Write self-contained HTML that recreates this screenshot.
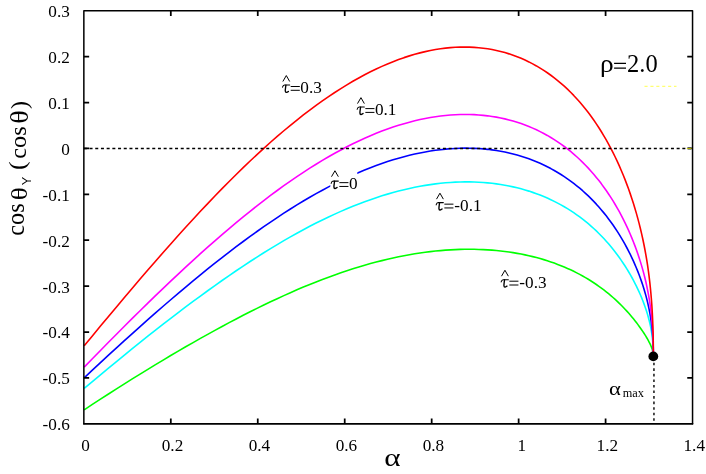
<!DOCTYPE html>
<html><head><meta charset="utf-8"><title>chart</title>
<style>
html,body{margin:0;padding:0;background:#fff;}
body{width:706px;height:474px;overflow:hidden;}
svg{display:block;will-change:transform;}
text{font-family:"Liberation Serif",serif;fill:#000;}
</style></head><body>
<svg width="706" height="474" viewBox="0 0 706 474">
<rect x="0" y="0" width="706" height="474" fill="#fff"/>

<g fill="none" stroke-width="1.6" stroke-linejoin="round" stroke-linecap="butt">
<polyline stroke="#00ff00" points="84.20,409.84 92.36,404.45 100.46,399.16 108.50,393.96 116.49,388.86 124.41,383.84 132.28,378.92 140.08,374.08 147.83,369.32 155.52,364.65 163.15,360.07 170.72,355.56 178.23,351.15 185.68,346.81 193.08,342.57 200.41,338.41 207.69,334.33 214.91,330.35 222.06,326.46 229.16,322.65 236.20,318.94 243.19,315.32 250.11,311.80 256.97,308.37 263.78,305.04 270.52,301.80 277.21,298.67 283.84,295.63 290.41,292.69 296.92,289.85 303.37,287.11 309.76,284.47 316.09,281.94 322.37,279.50 328.58,277.16 334.74,274.93 340.84,272.79 346.88,270.76 352.86,268.82 358.78,266.98 364.64,265.24 370.44,263.60 376.19,262.05 381.87,260.60 387.50,259.24 393.07,257.98 398.58,256.81 404.03,255.73 409.42,254.73 414.75,253.83 420.02,253.01 425.24,252.28 430.39,251.63 435.49,251.06 440.53,250.58 445.50,250.17 450.42,249.84 455.28,249.59 460.09,249.42 464.83,249.31 469.51,249.28 474.14,249.32 478.70,249.43 483.21,249.61 487.66,249.86 492.05,250.17 496.38,250.54 500.65,250.98 504.86,251.48 509.02,252.04 513.11,252.66 517.15,253.34 521.12,254.07 525.04,254.87 528.90,255.72 532.70,256.62 536.44,257.57 540.12,258.58 543.75,259.64 547.31,260.75 550.82,261.91 554.26,263.12 557.65,264.38 560.98,265.68 564.25,267.03 567.46,268.42 570.61,269.85 573.71,271.33 576.74,272.85 579.72,274.41 582.63,276.00 585.49,277.63 588.29,279.30 591.03,281.00 593.71,282.74 596.33,284.50 598.89,286.29 601.40,288.11 603.84,289.95 606.23,291.82 608.56,293.70 610.82,295.60 613.03,297.52 615.18,299.45 617.27,301.39 619.31,303.34 621.28,305.29 623.20,307.24 625.05,309.20 626.85,311.14 628.59,313.08 630.27,315.01 631.89,316.92 633.45,318.82 634.95,320.70 636.39,322.55 637.78,324.38 639.10,326.18 640.37,327.94 641.58,329.67 642.73,331.36 643.82,333.02 644.85,334.63 645.82,336.20 646.73,337.73 647.59,339.21 648.38,340.64 649.12,342.03 649.80,343.38 650.42,344.68 650.97,345.95 651.48,347.17 651.92,348.37 652.30,349.53 652.62,350.68 652.89,351.81 653.10,352.93 653.24,354.07 653.33,355.21 653.36,356.39"/>
<polyline stroke="#00ffff" points="84.20,388.48 92.36,381.59 100.46,374.81 108.50,368.12 116.49,361.54 124.41,355.06 132.28,348.68 140.08,342.40 147.83,336.23 155.52,330.16 163.15,324.20 170.72,318.35 178.23,312.60 185.68,306.97 193.08,301.45 200.41,296.04 207.69,290.75 214.91,285.58 222.06,280.52 229.16,275.59 236.20,270.78 243.19,266.10 250.11,261.54 256.97,257.11 263.78,252.80 270.52,248.63 277.21,244.59 283.84,240.67 290.41,236.89 296.92,233.24 303.37,229.72 309.76,226.33 316.09,223.08 322.37,219.96 328.58,216.97 334.74,214.11 340.84,211.38 346.88,208.78 352.86,206.31 358.78,203.97 364.64,201.75 370.44,199.66 376.19,197.70 381.87,195.86 387.50,194.14 393.07,192.54 398.58,191.06 404.03,189.69 409.42,188.45 414.75,187.32 420.02,186.30 425.24,185.39 430.39,184.59 435.49,183.89 440.53,183.30 445.50,182.82 450.42,182.44 455.28,182.15 460.09,181.97 464.83,181.88 469.51,181.89 474.14,181.99 478.70,182.19 483.21,182.47 487.66,182.84 492.05,183.30 496.38,183.85 500.65,184.47 504.86,185.19 509.02,185.98 513.11,186.85 517.15,187.80 521.12,188.83 525.04,189.94 528.90,191.11 532.70,192.37 536.44,193.69 540.12,195.09 543.75,196.56 547.31,198.09 550.82,199.69 554.26,201.36 557.65,203.10 560.98,204.89 564.25,206.75 567.46,208.68 570.61,210.66 573.71,212.70 576.74,214.80 579.72,216.95 582.63,219.16 585.49,221.42 588.29,223.73 591.03,226.09 593.71,228.50 596.33,230.95 598.89,233.45 601.40,235.99 603.84,238.56 606.23,241.18 608.56,243.83 610.82,246.52 613.03,249.23 615.18,251.97 617.27,254.74 619.31,257.53 621.28,260.35 623.20,263.18 625.05,266.02 626.85,268.88 628.59,271.75 630.27,274.63 631.89,277.51 633.45,280.39 634.95,283.28 636.39,286.16 637.78,289.04 639.10,291.92 640.37,294.78 641.58,297.64 642.73,300.50 643.82,303.34 644.85,306.17 645.82,309.00 646.73,311.81 647.59,314.62 648.38,317.43 649.12,320.24 649.80,323.05 650.42,325.86 650.97,328.70 651.48,331.55 651.92,334.43 652.30,337.35 652.62,340.32 652.89,343.35 653.10,346.45 653.24,349.65 653.33,352.96 653.36,356.39"/>
<polyline stroke="#0000ff" points="84.20,377.81 92.36,370.17 100.46,362.63 108.50,355.20 116.49,347.88 124.41,340.67 132.28,333.56 140.08,326.57 147.83,319.69 155.52,312.92 163.15,306.27 170.72,299.74 178.23,293.33 185.68,287.05 193.08,280.89 200.41,274.86 207.69,268.96 214.91,263.19 222.06,257.56 229.16,252.06 236.20,246.70 243.19,241.49 250.11,236.41 256.97,231.48 263.78,226.69 270.52,222.04 277.21,217.55 283.84,213.19 290.41,208.99 296.92,204.93 303.37,201.03 309.76,197.27 316.09,193.65 322.37,190.19 328.58,186.87 334.74,183.70 340.84,180.67 346.88,177.79 352.86,175.05 358.78,172.46 364.64,170.01 370.44,167.69 376.19,165.52 381.87,163.48 387.50,161.58 393.07,159.82 398.58,158.18 404.03,156.68 409.42,155.31 414.75,154.06 420.02,152.94 425.24,151.94 430.39,151.06 435.49,150.31 440.53,149.67 445.50,149.14 450.42,148.73 455.28,148.44 460.09,148.25 464.83,148.17 469.51,148.20 474.14,148.33 478.70,148.56 483.21,148.90 487.66,149.33 492.05,149.87 496.38,150.50 500.65,151.22 504.86,152.04 509.02,152.95 513.11,153.95 517.15,155.03 521.12,156.21 525.04,157.47 528.90,158.81 532.70,160.24 536.44,161.75 540.12,163.34 543.75,165.01 547.31,166.76 550.82,168.58 554.26,170.48 557.65,172.46 560.98,174.50 564.25,176.62 567.46,178.80 570.61,181.06 573.71,183.38 576.74,185.77 579.72,188.22 582.63,190.73 585.49,193.31 588.29,195.94 591.03,198.63 593.71,201.38 596.33,204.17 598.89,207.02 601.40,209.92 603.84,212.87 606.23,215.86 608.56,218.90 610.82,221.97 613.03,225.08 615.18,228.23 617.27,231.42 619.31,234.63 621.28,237.87 623.20,241.14 625.05,244.44 626.85,247.75 628.59,251.08 630.27,254.43 631.89,257.80 633.45,261.18 634.95,264.57 636.39,267.97 637.78,271.37 639.10,274.79 640.37,278.21 641.58,281.63 642.73,285.06 643.82,288.50 644.85,291.94 645.82,295.39 646.73,298.86 647.59,302.33 648.38,305.82 649.12,309.34 649.80,312.88 650.42,316.46 650.97,320.07 651.48,323.74 651.92,327.46 652.30,331.26 652.62,335.14 652.89,339.12 653.10,343.21 653.24,347.44 653.33,351.83 653.36,356.39"/>
<polyline stroke="#ff00ff" points="84.20,367.13 92.36,358.74 100.46,350.46 108.50,342.29 116.49,334.22 124.41,326.28 132.28,318.44 140.08,310.73 147.83,303.14 155.52,295.68 163.15,288.34 170.72,281.13 178.23,274.06 185.68,267.13 193.08,260.33 200.41,253.67 207.69,247.17 214.91,240.80 222.06,234.59 229.16,228.53 236.20,222.62 243.19,216.87 250.11,211.28 256.97,205.85 263.78,200.57 270.52,195.46 277.21,190.51 283.84,185.72 290.41,181.09 296.92,176.63 303.37,172.33 309.76,168.20 316.09,164.23 322.37,160.42 328.58,156.77 334.74,153.29 340.84,149.96 346.88,146.80 352.86,143.80 358.78,140.95 364.64,138.26 370.44,135.72 376.19,133.34 381.87,131.11 387.50,129.03 393.07,127.09 398.58,125.31 404.03,123.66 409.42,122.16 414.75,120.80 420.02,119.58 425.24,118.49 430.39,117.54 435.49,116.72 440.53,116.03 445.50,115.47 450.42,115.03 455.28,114.72 460.09,114.53 464.83,114.45 469.51,114.50 474.14,114.66 478.70,114.94 483.21,115.33 487.66,115.83 492.05,116.44 496.38,117.15 500.65,117.97 504.86,118.89 509.02,119.92 513.11,121.04 517.15,122.27 521.12,123.59 525.04,125.00 528.90,126.51 532.70,128.12 536.44,129.81 540.12,131.60 543.75,133.47 547.31,135.43 550.82,137.47 554.26,139.60 557.65,141.82 560.98,144.11 564.25,146.48 567.46,148.93 570.61,151.46 573.71,154.06 576.74,156.74 579.72,159.49 582.63,162.31 585.49,165.20 588.29,168.15 591.03,171.17 593.71,174.25 596.33,177.40 598.89,180.60 601.40,183.86 603.84,187.18 606.23,190.54 608.56,193.96 610.82,197.43 613.03,200.94 615.18,204.49 617.27,208.09 619.31,211.73 621.28,215.40 623.20,219.11 625.05,222.85 626.85,226.62 628.59,230.42 630.27,234.24 631.89,238.09 633.45,241.96 634.95,245.86 636.39,249.77 637.78,253.70 639.10,257.66 640.37,261.63 641.58,265.62 642.73,269.63 643.82,273.66 644.85,277.71 645.82,281.79 646.73,285.90 647.59,290.04 648.38,294.22 649.12,298.44 649.80,302.71 650.42,307.05 650.97,311.45 651.48,315.92 651.92,320.49 652.30,325.17 652.62,329.96 652.89,334.89 653.10,339.97 653.24,345.24 653.33,350.70 653.36,356.39"/>
<polyline stroke="#ff0000" points="84.20,345.78 92.36,335.89 100.46,326.11 108.50,316.45 116.49,306.91 124.41,297.49 132.28,288.21 140.08,279.06 147.83,270.05 155.52,261.19 163.15,252.48 170.72,243.92 178.23,235.52 185.68,227.28 193.08,219.21 200.41,211.31 207.69,203.58 214.91,196.03 222.06,188.66 229.16,181.47 236.20,174.47 243.19,167.65 250.11,161.02 256.97,154.58 263.78,148.34 270.52,142.28 277.21,136.42 283.84,130.76 290.41,125.29 296.92,120.02 303.37,114.94 309.76,110.06 316.09,105.37 322.37,100.88 328.58,96.58 334.74,92.47 340.84,88.55 346.88,84.82 352.86,81.29 358.78,77.93 364.64,74.77 370.44,71.79 376.19,68.99 381.87,66.36 387.50,63.92 393.07,61.65 398.58,59.56 404.03,57.63 409.42,55.88 414.75,54.29 420.02,52.86 425.24,51.60 430.39,50.50 435.49,49.55 440.53,48.75 445.50,48.11 450.42,47.62 455.28,47.28 460.09,47.08 464.83,47.03 469.51,47.11 474.14,47.33 478.70,47.69 483.21,48.19 487.66,48.81 492.05,49.57 496.38,50.45 500.65,51.46 504.86,52.60 509.02,53.86 513.11,55.23 517.15,56.73 521.12,58.34 525.04,60.07 528.90,61.91 532.70,63.87 536.44,65.93 540.12,68.10 543.75,70.38 547.31,72.77 550.82,75.25 554.26,77.84 557.65,80.53 560.98,83.32 564.25,86.21 567.46,89.19 570.61,92.27 573.71,95.43 576.74,98.69 579.72,102.03 582.63,105.46 585.49,108.98 588.29,112.58 591.03,116.26 593.71,120.01 596.33,123.85 598.89,127.76 601.40,131.74 603.84,135.79 606.23,139.91 608.56,144.09 610.82,148.34 613.03,152.65 615.18,157.02 617.27,161.44 619.31,165.92 621.28,170.46 623.20,175.04 625.05,179.67 626.85,184.36 628.59,189.08 630.27,193.86 631.89,198.67 633.45,203.53 634.95,208.44 636.39,213.38 637.78,218.37 639.10,223.40 640.37,228.47 641.58,233.59 642.73,238.76 643.82,243.98 644.85,249.25 645.82,254.59 646.73,259.99 647.59,265.46 648.38,271.01 649.12,276.65 649.80,282.38 650.42,288.23 650.97,294.20 651.48,300.30 651.92,306.56 652.30,312.98 652.62,319.60 652.89,326.43 653.10,333.49 653.24,340.82 653.33,348.45 653.36,356.39"/>
</g>
<rect x="330.3" y="168.5" width="27" height="23" fill="#fff"/>
<line x1="83.85" y1="148.5" x2="692.55" y2="148.5" stroke="#000" stroke-width="1.6" stroke-dasharray="3 2.7"/>
<line x1="653.95" y1="357.2" x2="653.95" y2="423.80" stroke="#000" stroke-width="1.4" stroke-dasharray="2.6 2.95"/>
<path d="M83.85 423.80V10.70H692.55V423.80" fill="none" stroke="#000" stroke-width="1.5" stroke-linejoin="round" stroke-linecap="round"/>
<path d="M83.85 423.80H692.55" fill="none" stroke="#000" stroke-width="1.75" stroke-linecap="round"/>
<path d="M170.81 423.80V418.50M170.81 10.70V16.00M257.76 423.80V418.50M257.76 10.70V16.00M344.72 423.80V418.50M344.72 10.70V16.00M431.68 423.80V418.50M431.68 10.70V16.00M518.64 423.80V418.50M518.64 10.70V16.00M605.59 423.80V418.50M605.59 10.70V16.00M83.85 56.60H89.15M692.55 56.60H687.25M83.85 102.50H89.15M692.55 102.50H687.25M83.85 148.40H89.15M692.55 148.40H687.25M83.85 194.30H89.15M692.55 194.30H687.25M83.85 240.20H89.15M692.55 240.20H687.25M83.85 286.10H89.15M692.55 286.10H687.25M83.85 332.00H89.15M692.55 332.00H687.25M83.85 377.90H89.15M692.55 377.90H687.25" stroke="#000" stroke-width="1.75" fill="none"/>
<g font-size="17.2">
<text x="85.55" y="450.6" text-anchor="middle">0</text>
<text x="172.51" y="450.6" text-anchor="middle">0.2</text>
<text x="259.46" y="450.6" text-anchor="middle">0.4</text>
<text x="346.42" y="450.6" text-anchor="middle">0.6</text>
<text x="433.38" y="450.6" text-anchor="middle">0.8</text>
<text x="521.84" y="450.6" text-anchor="middle">1</text>
<text x="607.29" y="450.6" text-anchor="middle">1.2</text>
<text x="694.25" y="450.6" text-anchor="middle">1.4</text>
<text x="69.8" y="17.10" text-anchor="end">0.3</text>
<text x="69.8" y="63.00" text-anchor="end">0.2</text>
<text x="69.8" y="108.90" text-anchor="end">0.1</text>
<text x="69.8" y="154.80" text-anchor="end">0</text>
<text x="69.8" y="200.70" text-anchor="end">-0.1</text>
<text x="69.8" y="246.60" text-anchor="end">-0.2</text>
<text x="69.8" y="292.50" text-anchor="end">-0.3</text>
<text x="69.8" y="338.40" text-anchor="end">-0.4</text>
<text x="69.8" y="384.30" text-anchor="end">-0.5</text>
<text x="69.8" y="430.20" text-anchor="end">-0.6</text>
</g>
<circle cx="653.3" cy="356.4" r="4.9" fill="#000"/>
<g transform="translate(282.20 93.00)" fill="none" stroke="#000" stroke-linecap="round" stroke-linejoin="round"><path d="M0.3 -5.8Q0.9 -7.95 2.3 -8.05L7.5 -8.05" stroke-width="1.05"/><path d="M3.7 -7.9C3.4 -5.2 3.0 -3.6 3.1 -2.0C3.2 -0.4 4.6 -0.1 6.2 -1.6" stroke-width="1.35"/><path d="M0.65 -11.50L4.1 -17.45L7.5 -11.50" stroke-width="1.0" stroke-linecap="butt" stroke-linejoin="miter"/><path d="M8.5 -6.5H17.6M8.5 -2.7H17.6" stroke-width="1.0" stroke-linecap="butt"/></g><text x="300.30" y="93.00" font-size="17.2">0.3</text>
<g transform="translate(356.85 115.10)" fill="none" stroke="#000" stroke-linecap="round" stroke-linejoin="round"><path d="M0.3 -5.8Q0.9 -7.95 2.3 -8.05L7.5 -8.05" stroke-width="1.05"/><path d="M3.7 -7.9C3.4 -5.2 3.0 -3.6 3.1 -2.0C3.2 -0.4 4.6 -0.1 6.2 -1.6" stroke-width="1.35"/><path d="M0.65 -11.50L4.1 -17.45L7.5 -11.50" stroke-width="1.0" stroke-linecap="butt" stroke-linejoin="miter"/><path d="M8.5 -6.5H17.6M8.5 -2.7H17.6" stroke-width="1.0" stroke-linecap="butt"/></g><text x="374.95" y="115.10" font-size="17.2">0.1</text>
<g transform="translate(330.85 189.15)" fill="none" stroke="#000" stroke-linecap="round" stroke-linejoin="round"><path d="M0.3 -5.8Q0.9 -7.95 2.3 -8.05L7.5 -8.05" stroke-width="1.05"/><path d="M3.7 -7.9C3.4 -5.2 3.0 -3.6 3.1 -2.0C3.2 -0.4 4.6 -0.1 6.2 -1.6" stroke-width="1.35"/><path d="M0.65 -12.45L4.1 -18.40L7.5 -12.45" stroke-width="1.0" stroke-linecap="butt" stroke-linejoin="miter"/><path d="M8.5 -6.5H17.6M8.5 -2.7H17.6" stroke-width="1.0" stroke-linecap="butt"/></g><text x="348.95" y="189.15" font-size="17.2">0</text>
<g transform="translate(435.85 210.65)" fill="none" stroke="#000" stroke-linecap="round" stroke-linejoin="round"><path d="M0.3 -5.8Q0.9 -7.95 2.3 -8.05L7.5 -8.05" stroke-width="1.05"/><path d="M3.7 -7.9C3.4 -5.2 3.0 -3.6 3.1 -2.0C3.2 -0.4 4.6 -0.1 6.2 -1.6" stroke-width="1.35"/><path d="M0.65 -11.50L4.1 -17.45L7.5 -11.50" stroke-width="1.0" stroke-linecap="butt" stroke-linejoin="miter"/><path d="M8.5 -6.5H17.6M8.5 -2.7H17.6" stroke-width="1.0" stroke-linecap="butt"/></g><text x="454.35" y="210.65" font-size="17.2">-0.1</text>
<g transform="translate(500.85 287.70)" fill="none" stroke="#000" stroke-linecap="round" stroke-linejoin="round"><path d="M0.3 -5.8Q0.9 -7.95 2.3 -8.05L7.5 -8.05" stroke-width="1.05"/><path d="M3.7 -7.9C3.4 -5.2 3.0 -3.6 3.1 -2.0C3.2 -0.4 4.6 -0.1 6.2 -1.6" stroke-width="1.35"/><path d="M0.65 -11.50L4.1 -17.45L7.5 -11.50" stroke-width="1.0" stroke-linecap="butt" stroke-linejoin="miter"/><path d="M8.5 -6.5H17.6M8.5 -2.7H17.6" stroke-width="1.0" stroke-linecap="butt"/></g><text x="519.35" y="287.70" font-size="17.2">-0.3</text>
<text transform="translate(600.02 71.53) scale(1.139 1.066)" font-size="24">ρ</text>
<path d="M614.1 63.3H626.0M614.1 68.1H626.0" stroke="#000" stroke-width="1.25" fill="none"/>
<text x="627.0" y="72.3" font-size="24.5">2.0</text>
<line x1="644.5" y1="86.3" x2="676.5" y2="86.3" stroke="#ffff00" stroke-width="0.7" stroke-dasharray="3.1 2.8"/>
<line x1="686.8" y1="148.5" x2="691.6" y2="148.5" stroke="#ffff00" stroke-width="0.7"/>
<text transform="translate(609.10 394.71) scale(1.256 1.076)" font-size="18">α</text>
<text x="622.65" y="397.4" font-size="12.3">max</text>
<text transform="translate(384.36 466.24) scale(1.295 1.076)" font-size="24">α</text>
<text transform="translate(23.75 235.78) rotate(-90) scale(1.016 1.050)" font-size="24">cos</text>
<text transform="translate(26.76 200.22) rotate(-90) scale(1.132 0.998)" font-size="24">θ</text>
<text style='font-family:"Liberation Sans",sans-serif' transform="translate(31.00 185.22) rotate(-90) scale(1.062 1.099)" font-size="12">Y</text>
<text transform="translate(25.45 170.06) rotate(-90) scale(1.078 0.963)" font-size="24">(</text>
<text transform="translate(26.06 158.78) rotate(-90) scale(1.016 0.990)" font-size="24">cos</text>
<text transform="translate(28.26 123.87) rotate(-90) scale(1.175 1.009)" font-size="24">θ</text>
<text transform="translate(27.02 109.12) rotate(-90) scale(0.994 0.968)" font-size="24">)</text>
</svg></body></html>
